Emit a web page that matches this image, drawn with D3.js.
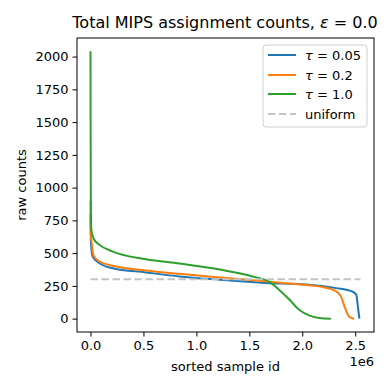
<!DOCTYPE html>
<html><head><meta charset="utf-8">
<script src="https://cdn.jsdelivr.net/npm/d3@7"></script>
<style>body{margin:0;background:#fff;} text{font-family:"DejaVu Sans",sans-serif;fill:#000;}</style>
</head><body><svg id="c" width="389" height="389"></svg>
<script>
// x values in units of 1e6 samples
const blueX   = [0, 0.003, 0.01, 0.02, 0.085, 0.21, 0.525, 0.84, 1.22, 1.69, 2.0, 2.32, 2.47, 2.51, 2.525, 2.54];
const blueY   = [800, 600, 520, 474, 423, 385, 353, 322, 297, 271, 262, 233, 208, 183, 94, 0];
const orangeX = [0, 0.003, 0.01, 0.03, 0.085, 0.21, 0.525, 0.84, 1.22, 1.69, 2.0, 2.2, 2.32, 2.365, 2.41, 2.44, 2.47, 2.49];
const orangeY = [900, 650, 588, 480, 436, 403, 368, 342, 314, 282, 259, 240, 208, 170, 68, 18, 3, 0];
const greenX  = [0, 0.001, 0.003, 0.008, 0.03, 0.085, 0.21, 0.525, 0.84, 1.22, 1.53, 1.69, 1.78, 1.88, 1.97, 2.07, 2.16, 2.27];
const greenY  = [2040, 1500, 900, 677, 610, 563, 512, 454, 420, 375, 322, 280, 221, 144, 68, 23, 5, 0];
const uniformX = [0, 2.55];
const uniformY = [300, 300];
const seriesNames = ["0.05", "0.2", "1.0"];
const xTicks = [0, 0.5, 1.0, 1.5, 2.0, 2.5];
const yTicks = [0, 250, 500, 750, 1000, 1250, 1500, 1750, 2000];

const svg = d3.select("#c");
const L = 77, R = 374, T = 38, B = 332;
const x = d3.scaleLinear().domain([-0.1275, 2.6775]).range([L, R]);
const y = d3.scaleLinear().domain([-102, 2142]).range([B, T]);

const colors = ["#1f77b4", "#ff7f0e", "#2ca02c"];
const series = [[blueX, blueY], [orangeX, orangeY], [greenX, greenY]];
const line = d3.line().x(d => x(d[0])).y(d => y(d[1])).curve(d3.curveMonotoneX);

const clip = svg.append("clipPath").attr("id", "cp").append("rect")
  .attr("x", L).attr("y", T).attr("width", R - L).attr("height", B - T);
const g = svg.append("g").attr("clip-path", "url(#cp)");

series.forEach((s, i) => {
  const pts = s[0].map((v, k) => [v, s[1][k]]);
  g.append("path").attr("d", line(pts)).attr("fill", "none")
    .attr("stroke", colors[i]).attr("stroke-width", 2);
});
g.append("path").attr("d", line(uniformX.map((v, k) => [v, uniformY[k]])))
  .attr("fill", "none").attr("stroke", "#c4c4c4").attr("stroke-width", 2)
  .attr("stroke-dasharray", "7.5,3.5");

// axes
const xAxis = d3.axisBottom(x).tickValues(xTicks).tickFormat(d3.format(".1f")).tickSizeOuter(0).tickSize(4.5).tickPadding(4);
const yAxis = d3.axisLeft(y).tickValues(yTicks).tickFormat(d3.format("d")).tickSizeOuter(0).tickSize(4.5).tickPadding(4);
const gx = svg.append("g").attr("transform", `translate(0,${B})`).call(xAxis);
const gy = svg.append("g").attr("transform", `translate(${L},0)`).call(yAxis);
[gx, gy].forEach(a => {
  a.select(".domain").remove();
  a.selectAll("text").attr("font-size", 13).attr("font-family", "DejaVu Sans").attr("fill", "#000");
  a.selectAll("line").attr("stroke", "#000").attr("stroke-width", 1);
});
svg.append("rect").attr("x", L).attr("y", T).attr("width", R - L).attr("height", B - T)
  .attr("fill", "none").attr("stroke", "#000").attr("stroke-width", 1);

svg.append("text").attr("x", (L + R) / 2).attr("y", 371).attr("text-anchor", "middle")
  .attr("font-size", 13).text("sorted sample id");
svg.append("text").attr("x", R).attr("y", 366).attr("text-anchor", "end")
  .attr("font-size", 13).text("1e6");
svg.append("text").attr("transform", `translate(26,${(T + B) / 2}) rotate(-90)`)
  .attr("text-anchor", "middle").attr("font-size", 13).text("raw counts");

const title = svg.append("text").attr("x", 225).attr("y", 28).attr("text-anchor", "middle").attr("font-size", 16);
title.append("tspan").text("Total MIPS assignment counts, ");
title.append("tspan").attr("font-style", "italic").text("ε");
title.append("tspan").text(" = 0.0");

// legend
const lg = svg.append("g");
lg.append("rect").attr("x", 263).attr("y", 45).attr("width", 104).attr("height", 82)
  .attr("rx", 3).attr("fill", "#fff").attr("fill-opacity", 0.8).attr("stroke", "#d0d0d0").attr("stroke-width", 1);
const rows = [55, 75, 94, 114];
seriesNames.forEach((n, i) => {
  lg.append("line").attr("x1", 268).attr("x2", 296).attr("y1", rows[i]).attr("y2", rows[i])
    .attr("stroke", colors[i]).attr("stroke-width", 2);
  const t = lg.append("text").attr("x", 305).attr("y", rows[i] + 4.5).attr("font-size", 13);
  t.append("tspan").attr("font-style", "italic").text("τ");
  t.append("tspan").text(" = " + n);
});
lg.append("line").attr("x1", 268).attr("x2", 296).attr("y1", rows[3]).attr("y2", rows[3])
  .attr("stroke", "#c4c4c4").attr("stroke-width", 2).attr("stroke-dasharray", "7.5,3.5");
lg.append("text").attr("x", 305).attr("y", rows[3] + 4.5).attr("font-size", 13).text("uniform");
</script></body></html>
